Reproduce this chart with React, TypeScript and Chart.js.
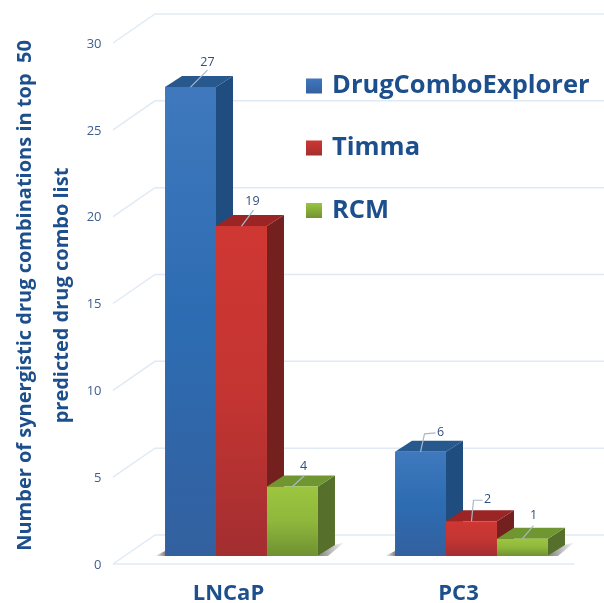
import React, { useEffect, useRef } from "react";
import { Chart, registerables } from "chart.js";

Chart.register(...registerables);

const categories = ["LNCaP", "PC3"];
const drugComboExplorer = [27, 6];
const timma = [19, 2];
const rcm = [4, 1];
const yTicks = [0, 5, 10, 15, 20, 25, 30];

const NAVY = "#1d4f8c";
const TICK = "#3d5f8f";
const GRID = "#e0eaf5";
const DX = 17;
const DY = -11;

const palette = [
  { stops: ["#3f78bd", "#2d6cb2", "#33609f"], top: "#27598f", side: "#1f4d80" },
  { stops: ["#cf3732", "#c43532", "#a32e30"], top: "#9b2524", side: "#74201f" },
  { stops: ["#9cc63f", "#8fb73c", "#6f9132"], top: "#6f9630", side: "#566f2a" },
];

// leader geometry per dataset / category, relative to the centre of the bar's top edge
const leaders: number[][][][] = [
  [[[0, 0], [17, -17]], [[0, 0], [4, -18], [15, -19]]],
  [[[0, 0], [12, -16]], [[0, 0], [2, -21], [11, -21]]],
  [[[0, 0], [12, -11]], [[0, 0], [11, -13]]],
];
const labelOffsets: number[][][] = [
  [[17, -25], [20, -19]],
  [[11, -25], [16, -22]],
  [[11, -20], [11, -23]],
];
const legendRows = [86, 148, 210.5];

const gradientFor = (c: any, i: number) => {
  const chart = c.chart;
  const y = chart.scales.y;
  if (!chart.chartArea || !y || c.parsed == null) return palette[i].stops[0];
  const g = chart.ctx.createLinearGradient(0, y.getPixelForValue(c.parsed.y), 0, y.getPixelForValue(0));
  g.addColorStop(0, palette[i].stops[0]);
  g.addColorStop(0.5, palette[i].stops[1]);
  g.addColorStop(1, palette[i].stops[2]);
  return g;
};

const poly = (ctx: CanvasRenderingContext2D, pts: number[][], fill: string | CanvasGradient) => {
  ctx.beginPath();
  pts.forEach((p, k) => (k ? ctx.lineTo(p[0], p[1]) : ctx.moveTo(p[0], p[1])));
  ctx.closePath();
  ctx.fillStyle = fill;
  ctx.fill();
};

const scene = {
  id: "scene",
  beforeDatasetsDraw(chart: any) {
    const { ctx, scales, chartArea } = chart;
    const y = scales.y;
    ctx.save();
    // receding gridlines on the wall and floor
    ctx.strokeStyle = GRID;
    ctx.lineWidth = 1.5;
    yTicks.forEach((t) => {
      const py = y.getPixelForValue(t);
      ctx.beginPath();
      ctx.moveTo(chartArea.left - 13.5, py + 8);
      ctx.lineTo(chartArea.left + 28.5, py - 21);
      ctx.lineTo(chart.width, py - 21);
      ctx.stroke();
    });
    const base = y.getPixelForValue(0);
    ctx.beginPath();
    ctx.moveTo(chartArea.left - 13.5, base + 8);
    ctx.lineTo(chartArea.right - 12, base + 8);
    ctx.stroke();
    // floor shadows and the side/top faces of each block
    chart.getDatasetMeta(0).data.forEach((b: any) => {
      const l = b.x - b.width / 2;
      const g = ctx.createLinearGradient(l - 10, 0, l, 0);
      g.addColorStop(0, "rgba(90,90,90,0)");
      g.addColorStop(1, "rgba(90,90,90,0.75)");
      poly(ctx, [[l - 10, base], [l, base - 5], [l, base]], g);
    });
    chart.getDatasetMeta(2).data.forEach((b: any) => {
      const r = b.x + b.width / 2;
      const g = ctx.createLinearGradient(r, 0, r + 27, 0);
      g.addColorStop(0, "rgba(70,70,70,0.7)");
      g.addColorStop(1, "rgba(70,70,70,0)");
      poly(ctx, [[r, base], [r + DX, base + DY], [r + 27, base + DY - 3], [r + 10, base]], g);
    });
    chart.data.datasets.forEach((_: any, i: number) => {
      chart.getDatasetMeta(i).data.forEach((b: any) => {
        const l = b.x - b.width / 2;
        const r = b.x + b.width / 2;
        poly(ctx, [[r, b.y], [r + DX, b.y + DY], [r + DX, base + DY], [r, base]], palette[i].side);
        poly(ctx, [[l, b.y], [l + DX, b.y + DY], [r + DX, b.y + DY], [r, b.y]], palette[i].top);
      });
    });
    ctx.restore();
  },
  afterDatasetsDraw(chart: any) {
    const { ctx } = chart;
    ctx.save();
    chart.data.datasets.forEach((ds: any, i: number) => {
      chart.getDatasetMeta(i).data.forEach((b: any, j: number) => {
        ctx.strokeStyle = "#a9b8c9";
        ctx.lineWidth = 1.2;
        ctx.beginPath();
        leaders[i][j].forEach((p, k) =>
          k ? ctx.lineTo(b.x + p[0], b.y + p[1]) : ctx.moveTo(b.x + p[0], b.y + p[1])
        );
        ctx.stroke();
        ctx.fillStyle = "#2f4f7f";
        ctx.font = "12.5px 'Open Sans'";
        ctx.textAlign = "center";
        ctx.textBaseline = "middle";
        ctx.fillText(String(ds.data[j]), b.x + labelOffsets[i][j][0], b.y + labelOffsets[i][j][1]);
      });
    });
    // legend
    ctx.font = "bold 25.5px 'Open Sans'";
    ctx.textAlign = "left";
    ctx.textBaseline = "middle";
    chart.data.datasets.forEach((ds: any, i: number) => {
      const cy = legendRows[i];
      const g = ctx.createLinearGradient(0, cy - 8, 0, cy + 8);
      g.addColorStop(0, palette[i].stops[0]);
      g.addColorStop(1, palette[i].stops[2]);
      ctx.fillStyle = g;
      ctx.fillRect(306, cy - 7.5, 16, 15);
      ctx.fillStyle = NAVY;
      ctx.fillText(ds.label, 332, cy);
    });
    ctx.restore();
  },
};

export default function App() {
  const ref = useRef<HTMLCanvasElement>(null);
  useEffect(() => {
    const chart = new Chart(ref.current!, {
      type: "bar",
      data: {
        labels: categories,
        datasets: [
          { label: "DrugComboExplorer", data: drugComboExplorer, backgroundColor: (c: any) => gradientFor(c, 0) },
          { label: "Timma", data: timma, backgroundColor: (c: any) => gradientFor(c, 1) },
          { label: "RCM", data: rcm, backgroundColor: (c: any) => gradientFor(c, 2) },
        ],
      },
      plugins: [scene],
      options: {
        responsive: false,
        animation: false,
        layout: { padding: { top: 35, right: 17.5, bottom: 0, left: 0 } },
        plugins: { legend: { display: false }, tooltip: { enabled: false } },
        datasets: { bar: { categoryPercentage: 0.665, barPercentage: 1 } },
        scales: {
          x: {
            grid: { display: false },
            border: { display: false },
            afterFit: (s: any) => { s.height = 47; },
            ticks: {
              color: NAVY,
              font: { family: "'Open Sans'", size: 22, weight: "bold" },
              labelOffset: -13,
              padding: 17,
              maxRotation: 0,
            },
          },
          y: {
            min: 0,
            max: 30,
            afterFit: (s: any) => { s.width = 126.5; },
            afterBuildTicks: (s: any) => { s.ticks = yTicks.map((value) => ({ value })); },
            grid: { display: false },
            border: { display: false },
            ticks: {
              color: TICK,
              font: { family: "'Open Sans'", size: 13 },
              labelOffset: 9,
              padding: 17,
            },
            title: {
              display: true,
              text: ["Number of synergistic drug combinations in top  50", "predicted drug combo list"],
              color: NAVY,
              font: { family: "'Open Sans'", size: 20, weight: "bold", lineHeight: 1.85 },
              padding: { top: 7, bottom: 0 },
            },
          },
        },
      },
    } as any);
    return () => chart.destroy();
  }, []);
  return (
    <div style={{ position: "absolute", left: 0, top: 0, width: 604, height: 603 }}>
      <canvas ref={ref} width={604} height={603} style={{ display: "block", filter: "blur(0.4px)" }} />
    </div>
  );
}
